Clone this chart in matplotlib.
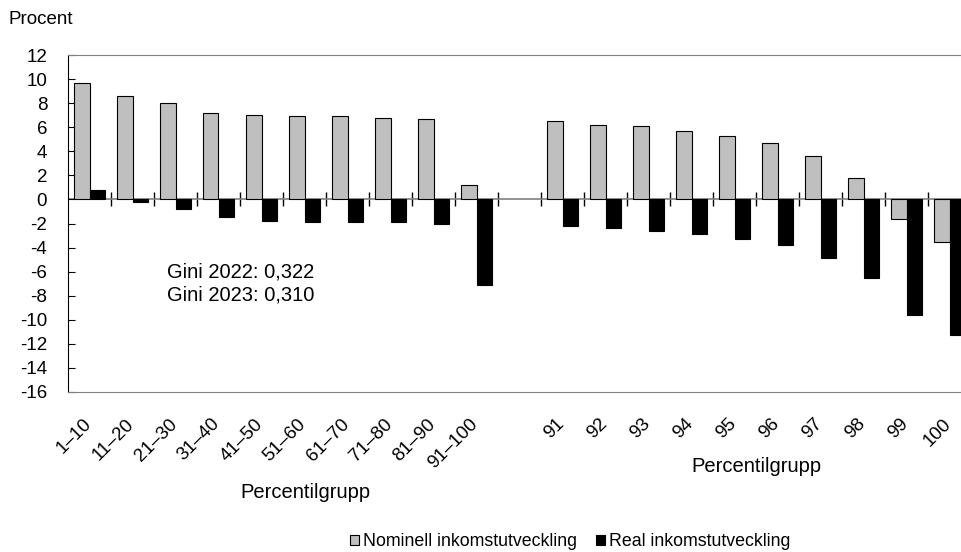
import numpy as np
import matplotlib
matplotlib.use("Agg")
import matplotlib.pyplot as plt
import matplotlib.transforms as mtransforms

plt.rcParams['font.family'] = ['Liberation Sans', 'DejaVu Sans']
plt.rcParams['axes.unicode_minus'] = False

# percentilgrupper (tom plats mellan grupperna)
grupper = ["1–10", "11–20", "21–30", "31–40", "41–50", "51–60", "61–70",
           "71–80", "81–90", "91–100", "",
           "91", "92", "93", "94", "95", "96", "97", "98", "99", "100"]

nominell = [9.7, 8.6, 8.0, 7.2, 7.0, 6.9, 6.9, 6.8, 6.7, 1.2, np.nan,
            6.5, 6.2, 6.1, 5.7, 5.3, 4.7, 3.6, 1.8, -1.6, -3.5]
real = [0.8, -0.2, -0.8, -1.5, -1.8, -1.9, -1.9, -1.9, -2.0, -7.1, np.nan,
        -2.2, -2.4, -2.6, -2.9, -3.3, -3.8, -4.9, -6.5, -9.6, -11.3]

gini_text = "Gini 2022: 0,322\nGini 2023: 0,310"

fig = plt.figure(figsize=(9.61, 5.52), dpi=100)
ax = fig.add_axes([68/961, 1-392/552, 903/961, 337/552])

x = np.arange(len(grupper))
bw = 0.36
ax.bar(x - bw/2, nominell, bw, color="#bfbfbf", edgecolor="black", linewidth=0.8,
       label="Nominell inkomstutveckling", zorder=2)
ax.bar(x + bw/2, real, bw, color="black", edgecolor="black", linewidth=0.8,
       label="Real inkomstutveckling", zorder=2)

ax.set_xlim(-0.5, len(grupper) - 0.5)
ax.set_ylim(-16, 12)
ax.set_yticks(np.arange(-16, 13, 2))
ax.tick_params(axis="y", direction="in", length=5, labelsize=13.5, pad=15)
ax.set_xticks(x)
ax.set_xticklabels(grupper, rotation=45, ha="right", va="top", fontsize=13.5)
ax.tick_params(axis="x", length=0, pad=14)
offset = mtransforms.ScaledTranslation(5/100, -4/100, fig.dpi_scale_trans)
for lab in ax.get_xticklabels():
    lab.set_transform(lab.get_transform() + offset)

for s in ["top", "bottom", "right"]:
    ax.spines[s].set_color("#808080")
ax.spines["left"].set_color("black")

# nollinje med streck mellan grupperna
ax.axhline(0, color="#808080", linewidth=1.2, zorder=1)
sec = ax.secondary_xaxis(16/28)
sec.set_xticks(x[:-1] + 0.5)
sec.set_xticklabels([])
sec.tick_params(direction="inout", length=10, width=1, color="black")
sec.spines["bottom"].set_visible(False)
sec.spines["top"].set_visible(False)

ax.text(1.8, -7.0, gini_text, fontsize=14.5, va="center", ha="left",
        linespacing=1.3)

fig.text(8/961, 1-20/552, "Procent", fontsize=13.5, va="center", ha="left")
fig.text(305/961, 1-493/552, "Percentilgrupp", fontsize=14.5, ha="center", va="center")
fig.text(756/961, 1-466/552, "Percentilgrupp", fontsize=14.5, ha="center", va="center")

fig.legend(loc="center", bbox_to_anchor=(570/961, 1-542/552), ncol=2, frameon=False,
           fontsize=12.8, handlelength=0.5, handleheight=0.5, handletextpad=0.2,
           columnspacing=1.1, borderpad=0)

fig.savefig("out.png", dpi=100)
